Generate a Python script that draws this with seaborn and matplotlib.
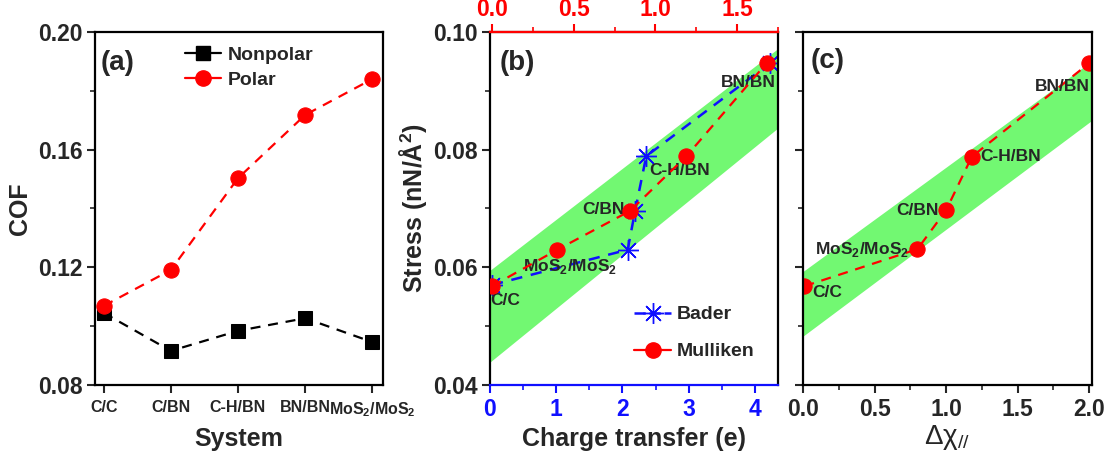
import matplotlib
matplotlib.use('Agg')
import matplotlib.pyplot as plt
from matplotlib.lines import Line2D
from matplotlib.ticker import MultipleLocator
import seaborn as sns
import pandas as pd

sns.set_theme(style="ticks")
plt.rcParams['font.family'] = ['Liberation Sans', 'DejaVu Sans']
plt.rcParams['font.weight'] = 'bold'
plt.rcParams['axes.labelweight'] = 'bold'

# (a) friction coefficient per system
systems = ['C/C', 'C/BN', 'C-H/BN', 'BN/BN', 'MoS$_\\mathregular{2}$/MoS$_\\mathregular{2}$']
cof_nonpolar = [0.1045, 0.0916, 0.0984, 0.1027, 0.0946]
cof_polar = [0.1069, 0.1191, 0.1503, 0.1718, 0.1840]

# (b) stress vs charge transfer
bader_charge = [0.03, 2.08, 2.19, 2.36, 4.23]
bader_stress = [0.0570, 0.0630, 0.0695, 0.0789, 0.0947]
mulliken_charge = [0.0, 0.40, 0.845, 1.19, 1.68]
mulliken_stress = [0.0568, 0.0630, 0.0696, 0.0789, 0.0947]
band_b_x = [0.0, 4.35]
band_b_upper = [0.0595, 0.0972]
band_b_lower = [0.0439, 0.0837]

# (c) stress vs electronegativity difference
dchi = [0.01, 0.80, 1.00, 1.18, 2.00]
dchi_stress = [0.0568, 0.0631, 0.0697, 0.0788, 0.0947]
band_c_x = [0.0, 2.02]
band_c_upper = [0.0593, 0.0951]
band_c_lower = [0.0483, 0.0850]

pair_labels = ['C/C', 'MoS$_\\mathregular{2}$/MoS$_\\mathregular{2}$', 'C/BN', 'C-H/BN', 'BN/BN']
GREEN = '#72f872'
RED = '#ff0000'
BLUE = '#1010ff'

fig = plt.figure(figsize=(11.16, 4.59), dpi=100)
axa = fig.add_axes([95 / 1116, 74 / 459, 288 / 1116, 353 / 459])
axb = fig.add_axes([490 / 1116, 74 / 459, 288 / 1116, 353 / 459])
axc = fig.add_axes([803 / 1116, 74 / 459, 289 / 1116, 353 / 459])


def style_box(ax):
    for s in ax.spines.values():
        s.set_visible(True)
        s.set_linewidth(1.6)
        s.set_color('black')
    ax.tick_params(which='major', direction='out', length=6, width=1.5, labelsize=16.5, pad=3)
    ax.tick_params(which='minor', direction='out', length=3.5, width=1.2)
    ax.tick_params(top=False, right=False, which='both')


# ---- (a)
pos = list(range(len(systems)))
df_a = pd.DataFrame({'pos': pos, 'nonpolar': cof_nonpolar, 'polar': cof_polar})
sns.lineplot(data=df_a, x='pos', y='nonpolar', ax=axa, color='black', marker='s', markersize=10,
             markeredgecolor='black', linestyle=(0, (4.5, 3.5)), linewidth=1.6, errorbar=None)
sns.lineplot(data=df_a, x='pos', y='polar', ax=axa, color=RED, marker='o', markersize=11,
             markeredgecolor=RED, linestyle=(0, (4.5, 3.5)), linewidth=1.6, errorbar=None)
style_box(axa)
axa.set_xlim(-0.13, 4.16)
axa.set_ylim(0.08, 0.20)
axa.set_xticks(pos)
axa.set_xticklabels(systems, fontsize=11.5)
axa.tick_params(axis='x', pad=5)
axa.yaxis.set_minor_locator(MultipleLocator(0.02))
axa.set_yticks([0.08, 0.12, 0.16, 0.20])
axa.set_xlabel('System', fontsize=18, labelpad=6)
axa.set_ylabel('COF', fontsize=18, labelpad=4)
axa.text(0.2, 0.1895, '(a)', fontsize=20, ha='center', va='center')
h_a = [Line2D([], [], color='black', marker='s', markersize=10, linewidth=1.6),
       Line2D([], [], color=RED, marker='o', markersize=11, linewidth=1.6)]
axa.legend(h_a, ['Nonpolar', 'Polar'], loc='upper left', bbox_to_anchor=(0.25, 1.01),
           frameon=False, fontsize=14, handlelength=1.9, handletextpad=0.3, labelspacing=0.4)

# ---- (b)
axb.fill_between(band_b_x, band_b_lower, band_b_upper, color=GREEN, linewidth=0, zorder=0)
df_bader = pd.DataFrame({'q': bader_charge, 's': bader_stress})
sns.lineplot(data=df_bader, x='q', y='s', ax=axb, color=BLUE, marker=(8, 2, 0), markersize=15,
             markeredgecolor=BLUE, markeredgewidth=1.0, linestyle=(0, (4.5, 3.5)), linewidth=1.8,
             errorbar=None, sort=False)
style_box(axb)
axb.set_xlim(0, 4.35)
axb.set_ylim(0.04, 0.10)
axb.xaxis.set_major_locator(MultipleLocator(1))
axb.xaxis.set_minor_locator(MultipleLocator(0.5))
axb.yaxis.set_major_locator(MultipleLocator(0.02))
axb.yaxis.set_minor_locator(MultipleLocator(0.01))
axb.spines['bottom'].set_color(BLUE)
axb.tick_params(axis='x', which='both', colors=BLUE)
axb.set_xlabel('Charge transfer (e)', fontsize=18, labelpad=5)
axb.set_ylabel('Stress (nN/Å$^\\mathregular{2}$)', fontsize=18, labelpad=3)

axt = axb.twiny()
df_mull = pd.DataFrame({'q': mulliken_charge, 's': mulliken_stress})
sns.lineplot(data=df_mull, x='q', y='s', ax=axt, color=RED, marker='o', markersize=11,
             markeredgecolor=RED, linestyle=(0, (4.5, 3.5)), linewidth=1.6, errorbar=None)
axt.set_xlim(-0.012, 1.75)
axt.set_ylim(0.04, 0.10)
axt.set_xlabel('')
axt.set_ylabel('')
axt.xaxis.set_major_locator(MultipleLocator(0.5))
axt.xaxis.set_minor_locator(MultipleLocator(0.25))
axt.tick_params(axis='x', which='major', direction='out', length=6, width=1.5, labelsize=16.5,
                colors=RED, top=True, bottom=False, labeltop=True, labelbottom=False, pad=2)
axt.tick_params(axis='x', which='minor', direction='out', length=3.5, width=1.2, colors=RED,
                top=True, bottom=False)
axt.spines['top'].set_color(RED)
axt.spines['top'].set_linewidth(1.6)
for s in ['left', 'right', 'bottom']:
    axt.spines[s].set_visible(False)

b_lab_x = [0.23, 1.21, 1.71, 2.87, 3.9]
b_lab_y = [0.0543, 0.0601, 0.0699, 0.0765, 0.0915]
for lx, ly, t in zip(b_lab_x, b_lab_y, pair_labels):
    axb.text(lx, ly, t, fontsize=12.5, ha='center', va='center', zorder=5)
axb.text(0.41, 0.0947, '(b)', fontsize=20, ha='center', va='center')
h_b = [Line2D([], [], color=BLUE, marker=(8, 2, 0), markersize=15, markeredgewidth=1.0,
              linestyle=(0, (4.5, 1.5)), linewidth=1.8),
       Line2D([], [], color=RED, marker='o', markersize=11, linewidth=1.6)]
axt.legend(h_b, ['Bader', 'Mulliken'], loc='lower right', bbox_to_anchor=(0.98, 0.02),
           frameon=False, fontsize=14, handlelength=1.9, handletextpad=0.3, labelspacing=1.0)

# ---- (c)
axc.fill_between(band_c_x, band_c_lower, band_c_upper, color=GREEN, linewidth=0, zorder=0)
df_c = pd.DataFrame({'d': dchi, 's': dchi_stress})
sns.lineplot(data=df_c, x='d', y='s', ax=axc, color=RED, marker='o', markersize=11,
             markeredgecolor=RED, linestyle=(0, (4.5, 3.5)), linewidth=1.6, errorbar=None)
style_box(axc)
axc.set_xlim(0, 2.02)
axc.set_ylim(0.04, 0.10)
axc.xaxis.set_major_locator(MultipleLocator(0.5))
axc.xaxis.set_minor_locator(MultipleLocator(0.25))
axc.yaxis.set_major_locator(MultipleLocator(0.02))
axc.yaxis.set_minor_locator(MultipleLocator(0.01))
axc.tick_params(axis='y', labelleft=False)
axc.set_ylabel('')
axc.set_xlabel('Δχ$_\\mathregular{//}$', fontsize=20, fontweight='normal', labelpad=2)
c_lab_x = [0.17, 0.41, 0.80, 1.45, 1.81]
c_lab_y = [0.0557, 0.0631, 0.0697, 0.0788, 0.0908]
for lx, ly, t in zip(c_lab_x, c_lab_y, pair_labels):
    axc.text(lx, ly, t, fontsize=12.5, ha='center', va='center', zorder=5)
axc.text(0.17, 0.095, '(c)', fontsize=20, ha='center', va='center')

fig.savefig('out.png', dpi=100)
